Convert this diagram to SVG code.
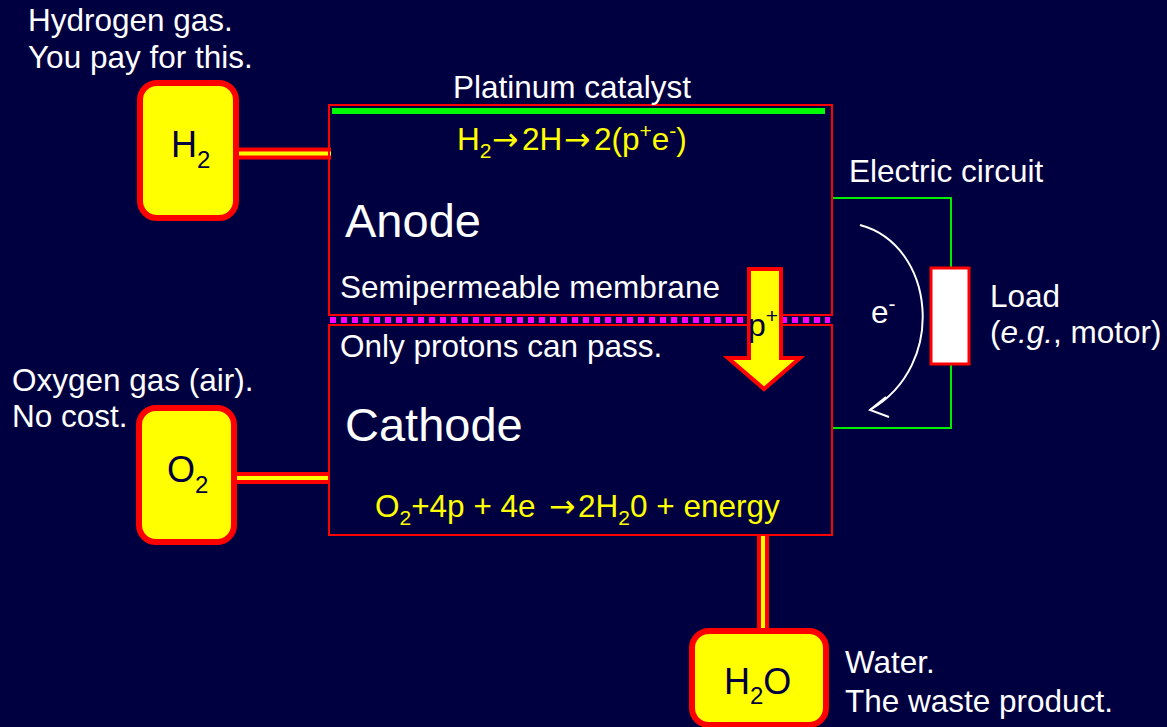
<svg xmlns="http://www.w3.org/2000/svg" width="1167" height="727" viewBox="0 0 1167 727">
<style>
  text { font-family: "Liberation Sans", Arial, sans-serif; font-size: 31.5px; }
  .w { fill: #FFFFFF; }
  .y { fill: #FFFF00; }
  .d { fill: #000040; }
  .big { font-size: 47px; }
  .arr { font-family: "DejaVu Sans", sans-serif; }
  .tank { fill: #FFFF00; stroke: #FF0000; stroke-width: 6; }
  .box { fill: none; stroke: #FF0000; stroke-width: 2; }
  .pipeO { stroke: #FF0000; stroke-width: 12; }
  .pipeI { stroke: #FFFF00; stroke-width: 4; }
  .wire { fill: none; stroke: #00EE00; stroke-width: 2; }
</style>
<rect x="0" y="0" width="1167" height="727" fill="#000040"/>

<g id="connectors">
  <line class="pipeO" x1="236" y1="153.5" x2="331" y2="153.5"/>
  <line class="pipeI" x1="236" y1="153.5" x2="331" y2="153.5"/>
  <line class="pipeO" x1="234" y1="478" x2="329" y2="478"/>
  <line class="pipeI" x1="234" y1="478" x2="329" y2="478"/>
  <line class="pipeO" x1="763" y1="535" x2="763" y2="632"/>
  <line class="pipeI" x1="763" y1="535" x2="763" y2="632"/>
  <polyline class="wire" points="832,198 951,198 951,268"/>
  <polyline class="wire" points="951,364 951,428 832,428"/>
  <path d="M860,225 C935,245 948,365 870,410" fill="none" stroke="#FFFFFF" stroke-width="2"/>
  <polyline points="886,397 870,410 889,417" fill="none" stroke="#FFFFFF" stroke-width="2"/>
</g>

<g id="anode">
  <rect class="box" x="329" y="105" width="503" height="210"/>
  <line x1="332" y1="111" x2="825" y2="111" stroke="#00FF00" stroke-width="6"/>
  <text class="w" x="453" y="98">Platinum catalyst</text>
  <text class="y" x="457" y="150">H<tspan font-size="21" dy="8">2</tspan><tspan class="arr" x="492" dy="-8">→</tspan><tspan x="522">2H</tspan><tspan class="arr" x="564">→</tspan><tspan x="594">2(p</tspan><tspan font-size="21" dy="-12">+</tspan><tspan dy="12">e</tspan><tspan font-size="21" dy="-12">-</tspan><tspan dy="12">)</tspan></text>
  <text class="w big" x="345" y="237">Anode</text>
  <text class="w" x="340" y="298">Semipermeable membrane</text>
</g>

<g id="membrane">
  <line x1="330" y1="320" x2="830" y2="320" stroke="#FF00FF" stroke-width="6" stroke-dasharray="6 5"/>
</g>

<g id="cathode">
  <rect class="box" x="329" y="325" width="503" height="210"/>
  <text class="w" x="340" y="357">Only protons can pass.</text>
  <text class="w big" x="345" y="441">Cathode</text>
  <text class="y" x="375" y="517">O<tspan font-size="21" dy="8">2</tspan><tspan dy="-8">+4p + 4e</tspan><tspan class="arr" x="549">→</tspan><tspan x="578">2H</tspan><tspan font-size="21" dy="8">2</tspan><tspan dy="-8">0 + energy</tspan></text>
</g>

<g id="proton-arrow">
  <polygon points="749,269 781,269 781,358 800,358 764,389 728,358 749,358" fill="#FFFF00" stroke="#FF0000" stroke-width="4"/>
  <text class="d" x="748" y="336" style="font-size:32px">p<tspan font-size="21" dy="-13">+</tspan></text>
</g>

<g id="h2-tank">
  <rect class="tank" x="140" y="83" width="96" height="135" rx="17"/>
  <text class="d" x="171" y="157" style="font-size:36px">H<tspan style="font-size:24px" dy="11">2</tspan></text>
  <text class="w" x="28" y="31">Hydrogen gas.</text>
  <text class="w" x="28" y="68">You pay for this.</text>
</g>

<g id="o2-tank">
  <rect class="tank" x="139" y="408" width="95" height="134" rx="17"/>
  <text class="d" x="167" y="482" style="font-size:36px">O<tspan style="font-size:24px" dy="11">2</tspan></text>
  <text class="w" x="12" y="391">Oxygen gas (air).</text>
  <text class="w" x="12" y="427">No cost.</text>
</g>

<g id="h2o-tank">
  <rect class="tank" x="692" y="631" width="134" height="94" rx="17"/>
  <text class="d" x="724" y="694" style="font-size:36px">H<tspan style="font-size:24px" dy="10">2</tspan><tspan dy="-10">O</tspan></text>
  <text class="w" x="845" y="673">Water.</text>
  <text class="w" x="845" y="712">The waste product.</text>
</g>

<g id="load">
  <rect x="931" y="268" width="38" height="96" fill="#FFFFFF" stroke="#FF0000" stroke-width="3"/>
  <text class="w" x="849" y="182">Electric circuit</text>
  <text class="w" x="990" y="307">Load</text>
  <text class="w" x="990" y="343">(<tspan font-style="italic">e.g.</tspan>, motor)</text>
  <text class="w" x="871" y="323">e<tspan font-size="21" dy="-12">-</tspan></text>
</g>
</svg>
